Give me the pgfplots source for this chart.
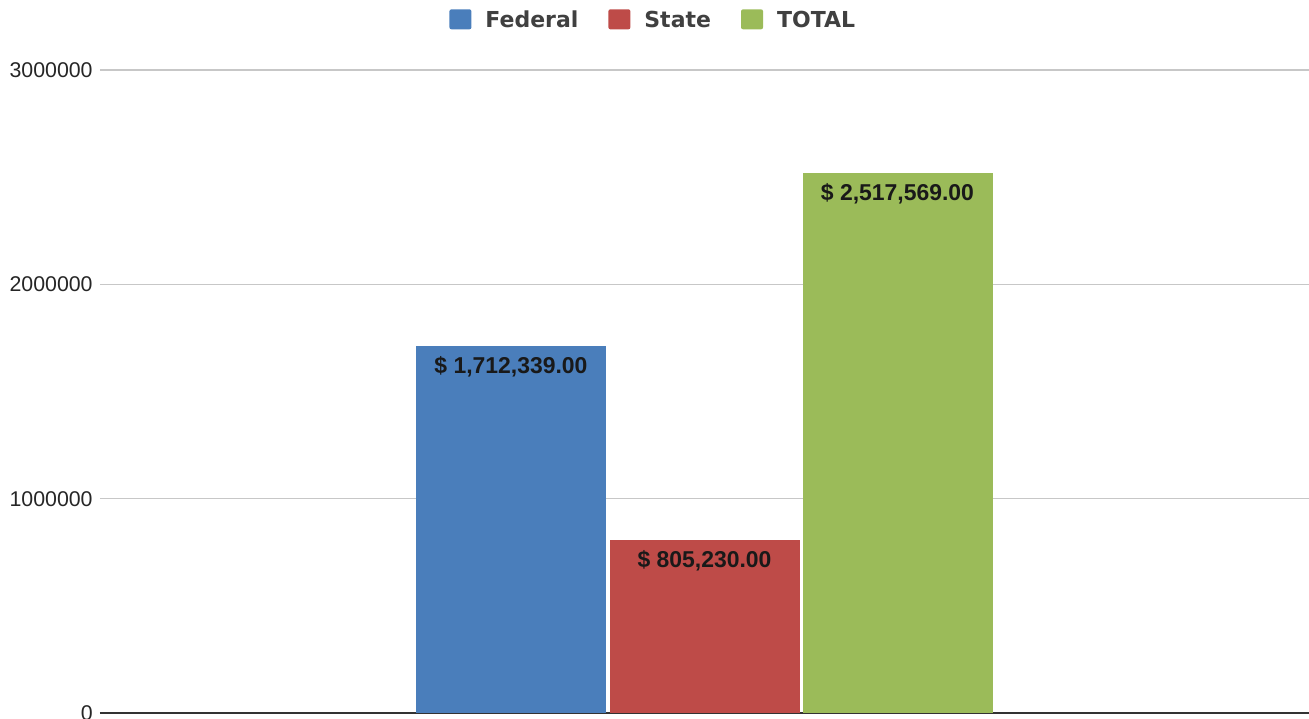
\documentclass[border=0pt]{standalone}
\usepackage{pgfplots}
\pgfplotsset{compat=1.18}
\usepackage{fontspec}
\setmainfont{Liberation Sans}
\newfontfamily\legfont{DejaVu Sans}
\definecolor{cfed}{HTML}{4A7EBB}
\definecolor{cstate}{HTML}{BE4B48}
\definecolor{ctotal}{HTML}{9BBB59}
\begin{document}
\begin{tikzpicture}
\begin{axis}[
 name=ax,
 scale only axis,
 width=906.75pt, height=482.25pt,
 xmin=100, xmax=1309,
 ymin=0, ymax=3000000,
 ytick={0,1000000,2000000,3000000},
 scaled y ticks=false,
 /pgf/number format/assume math mode=true,
 yticklabel style={/pgf/number format/fixed, /pgf/number format/1000 sep={}, font=\fontsize{16}{18}\selectfont, text=black!85, xshift=-2pt},
 xtick=\empty,
 ymajorgrids, grid style={color=black!22, line width=0.9pt},
 major tick length=0pt,
 axis x line*=bottom, axis y line*=left,
 y axis line style={draw=none},
 x axis line style={draw=black!80, line width=1.2pt},
 ybar, bar width=190, bar shift=0pt,
 nodes near coords, point meta=explicit symbolic,
 every node near coord/.append style={anchor=north, yshift=-4pt, font=\fontsize{17.2}{20}\selectfont\bfseries, text=black!90},
 legend style={at={(0.459,1)}, anchor=center, yshift=37.5pt, draw=none, fill=none,
   legend columns=3, font=\legfont\fontsize{16.5}{19}\selectfont\bfseries, text=black!75,
   /tikz/every even column/.append style={column sep=18.5pt},
   nodes={inner sep=4pt}},
 legend image code/.code={\fill[#1, draw=none, rounded corners=1.5pt] (0pt,-7pt) rectangle (16.5pt,8pt); \path (23pt,0pt);},
]
\addplot[fill=cfed, draw=none] coordinates {(511,1712339) [\$ 1,712,339.00]};
\addplot[fill=cstate, draw=none] coordinates {(704.5,805230) [\$ 805,230.00]};
\addplot[fill=ctotal, draw=none] coordinates {(897.5,2517569) [\$ 2,517,569.00]};
\legend{Federal, State, TOTAL}
\end{axis}
\pgfresetboundingbox
\path[use as bounding box] ([xshift=-75pt,yshift=-4.5pt]ax.south west) rectangle ([yshift=52.5pt]ax.north east);
\end{tikzpicture}
\end{document}
